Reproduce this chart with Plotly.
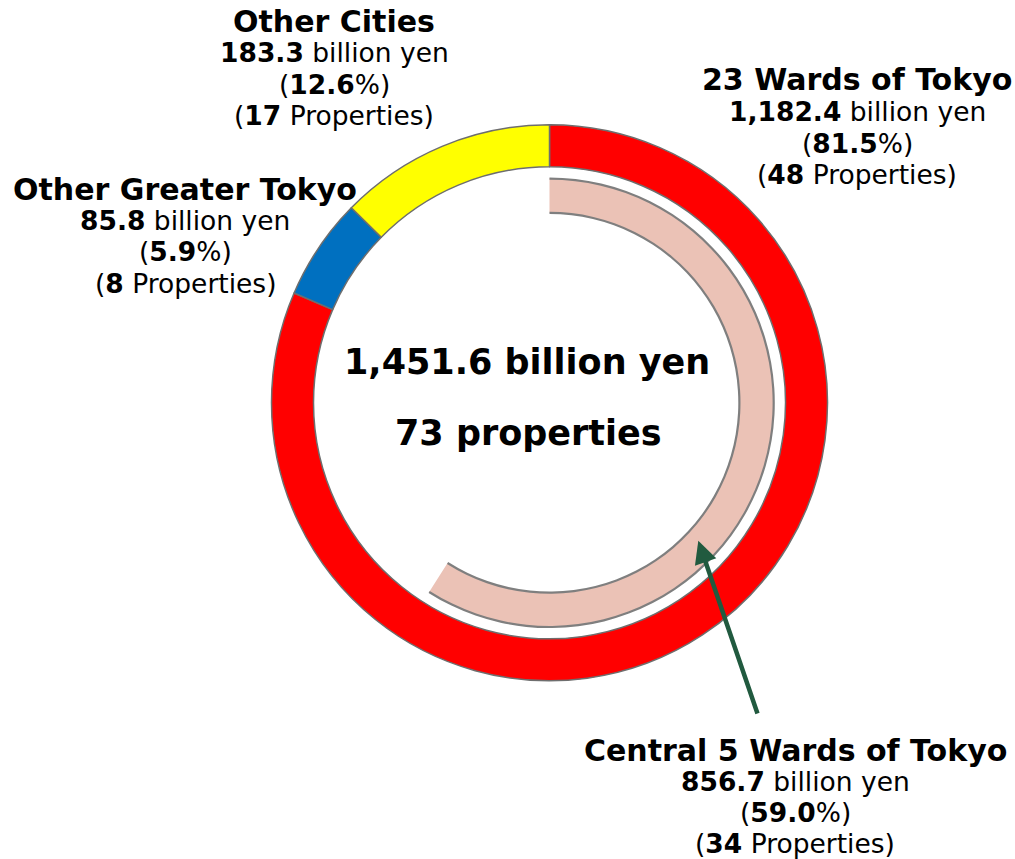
import plotly.graph_objects as go

W, H = 1015, 859

# ---- data ----
outer_labels = ["23 Wards of Tokyo", "Other Greater Tokyo", "Other Cities"]
outer_values = [1182.4, 85.8, 183.3]
outer_pct = [81.5, 5.9, 12.6]
outer_props = [48, 8, 17]
outer_colors = ["#FF0000", "#0070C0", "#FFFF00"]

inner_label = "Central 5 Wards of Tokyo"
inner_value = 856.7
inner_pct = 59.0
inner_props = 34
total_value = 1451.6
total_props = 73

# ---- geometry (screen pixels) ----
cx, cy = 549.5, 402.8
R_out, r_out_hole = 278, 236
R_pink, r_pink_hole = 224.5, 190.2


def px(x):
    return x / W


def py(y):
    return 1 - y / H


def dom(r):
    return dict(x=[px(cx - r), px(cx + r)], y=[py(cy + r), py(cy - r)])


fig = go.Figure()
fig.add_trace(go.Pie(
    values=outer_values, labels=outer_labels, sort=False, direction="clockwise", rotation=0,
    hole=r_out_hole / R_out, domain=dom(R_out),
    marker=dict(colors=outer_colors, line=dict(color="#6E6E6E", width=1.5)),
    textinfo="none", hoverinfo="none", showlegend=False,
))

rest = total_value - inner_value
fig.add_trace(go.Pie(
    values=[inner_value, rest], labels=[inner_label, "rest"], sort=False, direction="clockwise",
    hole=r_pink_hole / R_pink, domain=dom(R_pink),
    marker=dict(colors=["#EBC2B6", "rgba(0,0,0,0)"], line=dict(width=0)),
    textinfo="none", hoverinfo="none", showlegend=False,
))
# edge outlines of the pink arc
for r in (R_pink + 0.8, r_pink_hole + 0.8):
    fig.add_trace(go.Pie(
        values=[inner_value, rest], labels=[inner_label, "rest"], sort=False, direction="clockwise",
        hole=(r - 2.2) / r, domain=dom(r),
        marker=dict(colors=["#7F7F7F", "rgba(0,0,0,0)"], line=dict(width=0)),
        textinfo="none", hoverinfo="none", showlegend=False,
    ))

annotations = []
FONT = "DejaVu Sans"


def fmt(v):
    return f"{v:,.1f}"


def label(xc, ytop, title, value, pct, props, step=31):
    lines = [
        (f"<b>{title}</b>", 30),
        (f"<b>{fmt(value)}</b> billion yen", 26.5),
        (f"(<b>{pct:.1f}</b>%)", 26.5),
        (f"(<b>{props}</b> Properties)", 26.5),
    ]
    for i, (t, s) in enumerate(lines):
        annotations.append(dict(
            x=px(xc), y=py(ytop + i * step), xref="paper", yref="paper",
            text=t, showarrow=False, xanchor="center", yanchor="middle",
            font=dict(family=FONT, size=s, color="#000000"),
        ))


label(857, 80, outer_labels[0], outer_values[0], outer_pct[0], outer_props[0], step=31.5)
label(185, 190, outer_labels[1], outer_values[1], outer_pct[1], outer_props[1], step=31)
label(334, 22, outer_labels[2], outer_values[2], outer_pct[2], outer_props[2], step=31)
label(795, 750, inner_label, inner_value, inner_pct, inner_props, step=31)

annotations.append(dict(x=px(527), y=py(362), xref="paper", yref="paper",
                        text=f"<b>{fmt(total_value)} billion yen</b>", showarrow=False,
                        font=dict(family=FONT, size=35, color="#000000")))
annotations.append(dict(x=px(528), y=py(433), xref="paper", yref="paper",
                        text=f"<b>{total_props} properties</b>", showarrow=False,
                        font=dict(family=FONT, size=35, color="#000000")))

# arrow
hx, hy = 698.3, 540.7
tx, ty = 758, 715
annotations.append(dict(x=px(hx), y=py(hy), xref="paper", yref="paper", text="",
                        showarrow=True, ax=tx - hx, ay=ty - hy, arrowcolor="#215A3F",
                        arrowwidth=4.5, arrowhead=2, arrowsize=1.0, standoff=0))

fig.update_layout(
    width=W, height=H, margin=dict(l=0, r=0, t=0, b=0),
    paper_bgcolor="white", plot_bgcolor="white",
    annotations=annotations,
)
fig.write_html("out.html", config={"displayModeBar": False},
               post_script="document.body.style.margin='0';")
